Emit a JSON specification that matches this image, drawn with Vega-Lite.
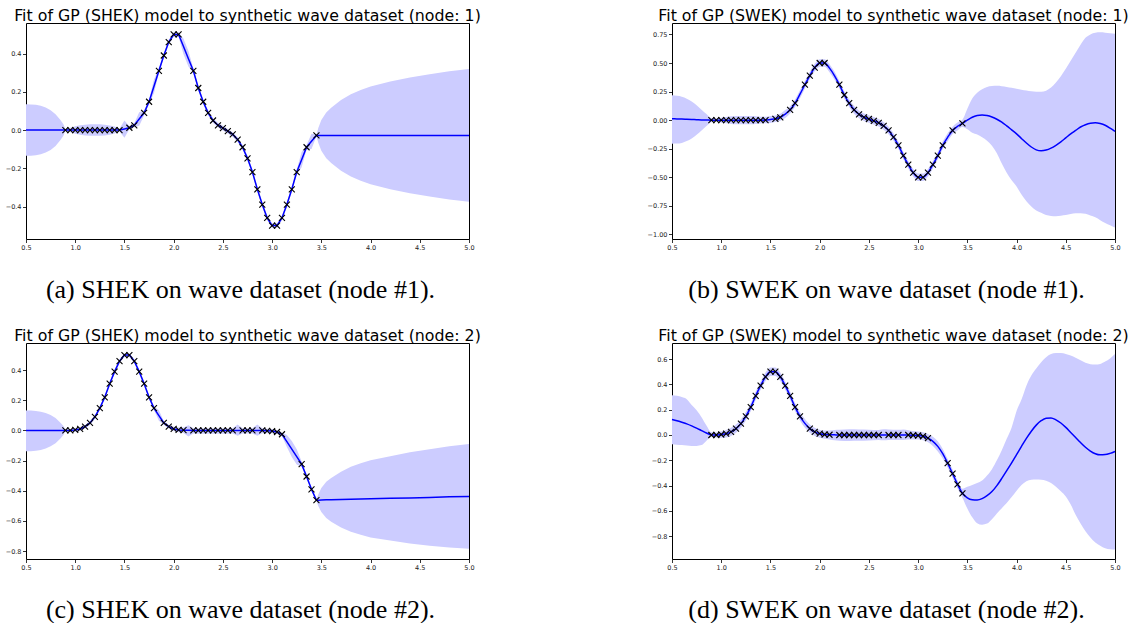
{
  "$schema": "https://vega.github.io/schema/vega-lite/v6.json",
  "background": "white",
  "padding": {"left": 4, "top": 7, "right": 0, "bottom": 0},
  "autosize": {"type": "pad"},
  "bounds": "flush",
  "columns": 2,
  "spacing": {"row": 104, "column": 203},
  "config": {
    "view": {"stroke": "#000", "strokeWidth": 1},
    "axis": {"domain": false, "grid": false, "tickColor": "#000", "tickSize": 3.5, "tickWidth": 0.8, "labelFont": "DejaVu Sans", "labelFontSize": 6.5, "labelColor": "#222", "labelPadding": 1.5, "labelOverlap": false},
    "axisX": {"titleFont": "Liberation Serif", "titleFontSize": 26, "titleFontWeight": "normal", "titleColor": "#000", "titleX": 214, "titleY": 58, "titleAlign": "center", "titleBaseline": "alphabetic", "labelFlush": false},
    "title": {"font": "DejaVu Sans", "fontSize": 15.8, "fontWeight": "normal", "color": "#000", "anchor": "middle", "offset": -2, "baseline": "alphabetic"}
  },
  "datasets": {
    "a": [
      {"x":0.5,"m":0,"lo":-0.135,"hi":0.135},{"x":0.55,"m":0,"lo":-0.134,"hi":0.134},{"x":0.6,"m":0,"lo":-0.132,"hi":0.132},{"x":0.65,"m":0,"lo":-0.127,"hi":0.127},{"x":0.7,"m":0,"lo":-0.118,"hi":0.118},{"x":0.75,"m":0,"lo":-0.104,"hi":0.104},{"x":0.8,"m":0,"lo":-0.083,"hi":0.083},{"x":0.85,"m":0,"lo":-0.052,"hi":0.052},{"x":0.88,"m":0,"lo":-0.03,"hi":0.03},{"x":0.9,"m":0,"lo":-0.005,"hi":0.005},
      {"x":0.95,"m":0,"lo":-0.012,"hi":0.012},{"x":1.0,"m":0,"lo":-0.02,"hi":0.02},{"x":1.05,"m":0,"lo":-0.025,"hi":0.025},{"x":1.1,"m":0,"lo":-0.028,"hi":0.028},{"x":1.15,"m":0,"lo":-0.03,"hi":0.03},{"x":1.2,"m":0,"lo":-0.03,"hi":0.03},{"x":1.25,"m":0,"lo":-0.03,"hi":0.03},{"x":1.3,"m":0,"lo":-0.028,"hi":0.028},{"x":1.35,"m":0,"lo":-0.024,"hi":0.024},{"x":1.4,"m":0,"lo":-0.018,"hi":0.018},{"x":1.45,"m":0,"lo":-0.008,"hi":0.008},
      {"x":1.5,"m":0.006,"lo":-0.04,"hi":0.05},{"x":1.55,"m":0.012,"lo":0.004,"hi":0.02},{"x":1.6,"m":0.025,"lo":0.015,"hi":0.035},{"x":1.65,"m":0.058,"lo":0.023,"hi":0.093},{"x":1.7,"m":0.09,"lo":0.078,"hi":0.102},{"x":1.75,"m":0.148,"lo":0.136,"hi":0.16},{"x":1.8,"m":0.229,"lo":0.194,"hi":0.264},{"x":1.85,"m":0.31,"lo":0.298,"hi":0.322},{"x":1.9,"m":0.39,"lo":0.378,"hi":0.402},{"x":1.95,"m":0.46,"lo":0.448,"hi":0.472},{"x":2.0,"m":0.5,"lo":0.488,"hi":0.512},{"x":2.05,"m":0.5,"lo":0.488,"hi":0.512},
      {"x":2.1,"m":0.437,"lo":0.397,"hi":0.477},{"x":2.15,"m":0.373,"lo":0.333,"hi":0.413},{"x":2.2,"m":0.31,"lo":0.298,"hi":0.322},{"x":2.25,"m":0.22,"lo":0.208,"hi":0.232},{"x":2.3,"m":0.148,"lo":0.136,"hi":0.16},{"x":2.35,"m":0.09,"lo":0.078,"hi":0.102},{"x":2.4,"m":0.05,"lo":0.038,"hi":0.062},{"x":2.45,"m":0.025,"lo":0.013,"hi":0.037},{"x":2.5,"m":0.01,"lo":-0.002,"hi":0.022},{"x":2.55,"m":-0.006,"lo":-0.018,"hi":0.006},{"x":2.6,"m":-0.023,"lo":-0.035,"hi":-0.011},{"x":2.65,"m":-0.05,"lo":-0.062,"hi":-0.038},{"x":2.7,"m":-0.09,"lo":-0.102,"hi":-0.078},{"x":2.75,"m":-0.148,"lo":-0.16,"hi":-0.136},{"x":2.8,"m":-0.22,"lo":-0.232,"hi":-0.208},{"x":2.85,"m":-0.31,"lo":-0.322,"hi":-0.298},{"x":2.9,"m":-0.39,"lo":-0.402,"hi":-0.378},{"x":2.95,"m":-0.46,"lo":-0.472,"hi":-0.448},{"x":3.0,"m":-0.5,"lo":-0.512,"hi":-0.488},{"x":3.05,"m":-0.5,"lo":-0.512,"hi":-0.488},{"x":3.1,"m":-0.46,"lo":-0.472,"hi":-0.448},{"x":3.15,"m":-0.39,"lo":-0.402,"hi":-0.378},{"x":3.2,"m":-0.31,"lo":-0.322,"hi":-0.298},{"x":3.25,"m":-0.22,"lo":-0.232,"hi":-0.208},{"x":3.3,"m":-0.155,"lo":-0.195,"hi":-0.115},{"x":3.35,"m":-0.09,"lo":-0.102,"hi":-0.078},{"x":3.4,"m":-0.059,"lo":-0.099,"hi":-0.019},{"x":3.45,"m":-0.028,"lo":-0.033,"hi":-0.023},
      {"x":3.47,"m":-0.028,"lo":-0.068,"hi":0.012},{"x":3.5,"m":-0.028,"lo":-0.108,"hi":0.052},{"x":3.55,"m":-0.028,"lo":-0.148,"hi":0.092},{"x":3.6,"m":-0.028,"lo":-0.173,"hi":0.117},{"x":3.7,"m":-0.028,"lo":-0.213,"hi":0.157},{"x":3.8,"m":-0.028,"lo":-0.243,"hi":0.187},{"x":3.9,"m":-0.028,"lo":-0.265,"hi":0.209},{"x":4.0,"m":-0.028,"lo":-0.284,"hi":0.228},{"x":4.2,"m":-0.028,"lo":-0.31,"hi":0.254},{"x":4.4,"m":-0.028,"lo":-0.331,"hi":0.275},{"x":4.6,"m":-0.028,"lo":-0.348,"hi":0.292},{"x":4.8,"m":-0.028,"lo":-0.363,"hi":0.307},{"x":5.0,"m":-0.028,"lo":-0.375,"hi":0.319}
    ],
    "b": [
      {"x":0.5,"m":0.012,"lo":-0.206,"hi":0.217},{"x":0.55,"m":0.011,"lo":-0.205,"hi":0.213},{"x":0.6,"m":0.01,"lo":-0.199,"hi":0.205},{"x":0.65,"m":0.008,"lo":-0.183,"hi":0.188},{"x":0.7,"m":0.006,"lo":-0.16,"hi":0.163},{"x":0.75,"m":0.004,"lo":-0.127,"hi":0.131},{"x":0.8,"m":0.002,"lo":-0.09,"hi":0.092},{"x":0.85,"m":0.001,"lo":-0.052,"hi":0.053},{"x":0.9,"m":0,"lo":-0.018,"hi":0.018},
      {"x":0.95,"m":0,"lo":-0.014,"hi":0.014},{"x":1.0,"m":0,"lo":-0.022,"hi":0.022},{"x":1.05,"m":0,"lo":-0.028,"hi":0.028},{"x":1.1,"m":0,"lo":-0.033,"hi":0.033},{"x":1.15,"m":0,"lo":-0.036,"hi":0.036},{"x":1.2,"m":0,"lo":-0.037,"hi":0.037},{"x":1.25,"m":0,"lo":-0.037,"hi":0.037},{"x":1.3,"m":0,"lo":-0.036,"hi":0.036},{"x":1.35,"m":0,"lo":-0.034,"hi":0.034},{"x":1.4,"m":0,"lo":-0.03,"hi":0.03},{"x":1.45,"m":0.001,"lo":-0.027,"hi":0.029},
      {"x":1.5,"m":0.006,"lo":-0.024,"hi":0.036},{"x":1.55,"m":0.012,"lo":-0.016,"hi":0.04},{"x":1.6,"m":0.025,"lo":-0.005,"hi":0.055},{"x":1.65,"m":0.053,"lo":0.018,"hi":0.088},{"x":1.7,"m":0.09,"lo":0.058,"hi":0.122},{"x":1.75,"m":0.148,"lo":0.115,"hi":0.181},{"x":1.8,"m":0.227,"lo":0.192,"hi":0.262},{"x":1.85,"m":0.31,"lo":0.277,"hi":0.343},{"x":1.9,"m":0.39,"lo":0.357,"hi":0.423},{"x":1.95,"m":0.46,"lo":0.427,"hi":0.493},{"x":2.0,"m":0.5,"lo":0.467,"hi":0.533},{"x":2.05,"m":0.5,"lo":0.467,"hi":0.533},{"x":2.1,"m":0.455,"lo":0.42,"hi":0.49},{"x":2.15,"m":0.39,"lo":0.355,"hi":0.425},{"x":2.2,"m":0.31,"lo":0.277,"hi":0.343},{"x":2.25,"m":0.22,"lo":0.187,"hi":0.253},{"x":2.3,"m":0.148,"lo":0.115,"hi":0.181},{"x":2.35,"m":0.09,"lo":0.057,"hi":0.123},{"x":2.4,"m":0.05,"lo":0.017,"hi":0.083},{"x":2.45,"m":0.025,"lo":-0.008,"hi":0.058},{"x":2.5,"m":0.01,"lo":-0.023,"hi":0.043},{"x":2.55,"m":-0.006,"lo":-0.039,"hi":0.027},{"x":2.6,"m":-0.023,"lo":-0.056,"hi":0.01},{"x":2.65,"m":-0.05,"lo":-0.083,"hi":-0.017},{"x":2.7,"m":-0.09,"lo":-0.123,"hi":-0.057},{"x":2.75,"m":-0.148,"lo":-0.181,"hi":-0.115},{"x":2.8,"m":-0.22,"lo":-0.253,"hi":-0.187},{"x":2.85,"m":-0.31,"lo":-0.343,"hi":-0.277},{"x":2.9,"m":-0.39,"lo":-0.423,"hi":-0.357},{"x":2.95,"m":-0.46,"lo":-0.493,"hi":-0.427},{"x":3.0,"m":-0.5,"lo":-0.533,"hi":-0.467},{"x":3.05,"m":-0.5,"lo":-0.533,"hi":-0.467},{"x":3.1,"m":-0.46,"lo":-0.493,"hi":-0.427},{"x":3.15,"m":-0.39,"lo":-0.423,"hi":-0.357},{"x":3.2,"m":-0.31,"lo":-0.343,"hi":-0.277},{"x":3.25,"m":-0.22,"lo":-0.253,"hi":-0.187},{"x":3.3,"m":-0.15,"lo":-0.185,"hi":-0.115},{"x":3.35,"m":-0.09,"lo":-0.123,"hi":-0.057},{"x":3.4,"m":-0.055,"lo":-0.09,"hi":-0.02},{"x":3.45,"m":-0.028,"lo":-0.06,"hi":0.004},
      {"x":3.5,"m":0.0,"lo":-0.08,"hi":0.1},{"x":3.55,"m":0.025,"lo":-0.11,"hi":0.19},{"x":3.6,"m":0.04,"lo":-0.125,"hi":0.24},{"x":3.65,"m":0.045,"lo":-0.15,"hi":0.27},{"x":3.7,"m":0.04,"lo":-0.18,"hi":0.29},{"x":3.75,"m":0.027,"lo":-0.225,"hi":0.298},{"x":3.8,"m":0.008,"lo":-0.29,"hi":0.3},{"x":3.85,"m":-0.017,"lo":-0.38,"hi":0.297},{"x":3.9,"m":-0.05,"lo":-0.46,"hi":0.29},{"x":3.95,"m":-0.085,"lo":-0.525,"hi":0.283},{"x":4.0,"m":-0.12,"lo":-0.58,"hi":0.275},{"x":4.05,"m":-0.16,"lo":-0.65,"hi":0.267},{"x":4.1,"m":-0.2,"lo":-0.71,"hi":0.26},{"x":4.15,"m":-0.235,"lo":-0.755,"hi":0.253},{"x":4.2,"m":-0.26,"lo":-0.79,"hi":0.248},{"x":4.25,"m":-0.268,"lo":-0.81,"hi":0.249},{"x":4.3,"m":-0.262,"lo":-0.83,"hi":0.258},{"x":4.35,"m":-0.245,"lo":-0.838,"hi":0.285},{"x":4.4,"m":-0.22,"lo":-0.84,"hi":0.33},{"x":4.45,"m":-0.19,"lo":-0.836,"hi":0.385},{"x":4.5,"m":-0.155,"lo":-0.83,"hi":0.45},{"x":4.55,"m":-0.12,"lo":-0.822,"hi":0.52},{"x":4.6,"m":-0.09,"lo":-0.815,"hi":0.59},{"x":4.65,"m":-0.06,"lo":-0.815,"hi":0.66},{"x":4.7,"m":-0.04,"lo":-0.82,"hi":0.72},{"x":4.75,"m":-0.027,"lo":-0.835,"hi":0.75},{"x":4.8,"m":-0.023,"lo":-0.85,"hi":0.765},{"x":4.85,"m":-0.03,"lo":-0.875,"hi":0.768},{"x":4.9,"m":-0.045,"lo":-0.9,"hi":0.765},{"x":4.95,"m":-0.07,"lo":-0.92,"hi":0.76},{"x":5.0,"m":-0.099,"lo":-0.94,"hi":0.755}
    ],
    "c": [
      {"x":0.5,"m":0,"lo":-0.138,"hi":0.133},{"x":0.55,"m":0,"lo":-0.137,"hi":0.132},{"x":0.6,"m":0,"lo":-0.135,"hi":0.13},{"x":0.65,"m":0,"lo":-0.129,"hi":0.125},{"x":0.7,"m":0,"lo":-0.12,"hi":0.116},{"x":0.75,"m":0,"lo":-0.105,"hi":0.102},{"x":0.8,"m":0,"lo":-0.084,"hi":0.082},{"x":0.85,"m":0,"lo":-0.053,"hi":0.051},{"x":0.88,"m":0,"lo":-0.03,"hi":0.03},{"x":0.9,"m":0,"lo":-0.005,"hi":0.005},
      {"x":0.95,"m":0,"lo":-0.01,"hi":0.01},{"x":1.0,"m":0.004,"lo":-0.008,"hi":0.016},{"x":1.05,"m":0.01,"lo":-0.002,"hi":0.022},{"x":1.1,"m":0.025,"lo":0.013,"hi":0.037},{"x":1.15,"m":0.05,"lo":0.038,"hi":0.062},{"x":1.2,"m":0.09,"lo":0.078,"hi":0.102},{"x":1.25,"m":0.148,"lo":0.136,"hi":0.16},{"x":1.3,"m":0.22,"lo":0.208,"hi":0.232},{"x":1.35,"m":0.31,"lo":0.298,"hi":0.322},{"x":1.4,"m":0.39,"lo":0.378,"hi":0.402},{"x":1.45,"m":0.46,"lo":0.448,"hi":0.472},{"x":1.5,"m":0.5,"lo":0.488,"hi":0.512},{"x":1.55,"m":0.5,"lo":0.488,"hi":0.512},{"x":1.6,"m":0.46,"lo":0.448,"hi":0.472},{"x":1.65,"m":0.39,"lo":0.378,"hi":0.402},{"x":1.7,"m":0.31,"lo":0.298,"hi":0.322},{"x":1.75,"m":0.22,"lo":0.208,"hi":0.232},{"x":1.8,"m":0.148,"lo":0.136,"hi":0.16},{"x":1.85,"m":0.099,"lo":0.064,"hi":0.134},{"x":1.9,"m":0.05,"lo":0.038,"hi":0.062},{"x":1.95,"m":0.025,"lo":0.013,"hi":0.037},{"x":2.0,"m":0.01,"lo":-0.004,"hi":0.024},{"x":2.05,"m":0.004,"lo":-0.012,"hi":0.02},{"x":2.1,"m":0.002,"lo":-0.016,"hi":0.02},{"x":2.15,"m":0.001,"lo":-0.04,"hi":0.035},
      {"x":2.2,"m":0,"lo":-0.02,"hi":0.015},{"x":2.25,"m":0,"lo":-0.022,"hi":0.015},{"x":2.3,"m":0,"lo":-0.022,"hi":0.015},{"x":2.35,"m":0,"lo":-0.022,"hi":0.015},{"x":2.4,"m":0,"lo":-0.022,"hi":0.015},{"x":2.45,"m":0,"lo":-0.022,"hi":0.015},{"x":2.5,"m":0,"lo":-0.022,"hi":0.015},{"x":2.55,"m":0,"lo":-0.022,"hi":0.015},{"x":2.6,"m":0,"lo":-0.02,"hi":0.015},{"x":2.65,"m":0,"lo":-0.035,"hi":0.04},{"x":2.7,"m":0,"lo":-0.02,"hi":0.015},{"x":2.75,"m":0,"lo":-0.02,"hi":0.015},{"x":2.8,"m":0,"lo":-0.02,"hi":0.015},{"x":2.85,"m":0,"lo":-0.035,"hi":0.04},{"x":2.9,"m":0,"lo":-0.018,"hi":0.015},{"x":2.95,"m":-0.002,"lo":-0.018,"hi":0.012},{"x":3.0,"m":-0.004,"lo":-0.018,"hi":0.01},{"x":3.05,"m":-0.01,"lo":-0.022,"hi":0.002},{"x":3.1,"m":-0.025,"lo":-0.037,"hi":-0.013},{"x":3.15,"m":-0.074,"lo":-0.11,"hi":-0.03},{"x":3.2,"m":-0.124,"lo":-0.175,"hi":-0.07},{"x":3.25,"m":-0.173,"lo":-0.225,"hi":-0.125},{"x":3.3,"m":-0.223,"lo":-0.24,"hi":-0.206},{"x":3.35,"m":-0.305,"lo":-0.318,"hi":-0.292},{"x":3.4,"m":-0.39,"lo":-0.403,"hi":-0.377},{"x":3.45,"m":-0.462,"lo":-0.467,"hi":-0.457},
      {"x":3.47,"m":-0.462,"lo":-0.502,"hi":-0.422},{"x":3.5,"m":-0.461,"lo":-0.541,"hi":-0.381},{"x":3.55,"m":-0.46,"lo":-0.58,"hi":-0.34},{"x":3.6,"m":-0.46,"lo":-0.605,"hi":-0.315},{"x":3.7,"m":-0.458,"lo":-0.643,"hi":-0.273},{"x":3.8,"m":-0.456,"lo":-0.671,"hi":-0.241},{"x":3.9,"m":-0.455,"lo":-0.692,"hi":-0.218},{"x":4.0,"m":-0.453,"lo":-0.709,"hi":-0.197},{"x":4.2,"m":-0.45,"lo":-0.73,"hi":-0.17},{"x":4.4,"m":-0.447,"lo":-0.75,"hi":-0.144},{"x":4.6,"m":-0.444,"lo":-0.764,"hi":-0.124},{"x":4.8,"m":-0.44,"lo":-0.775,"hi":-0.105},{"x":5.0,"m":-0.437,"lo":-0.784,"hi":-0.09}
    ],
    "d": [
      {"x":0.5,"m":0.123,"lo":-0.073,"hi":0.315},{"x":0.55,"m":0.113,"lo":-0.077,"hi":0.31},{"x":0.6,"m":0.101,"lo":-0.08,"hi":0.3},{"x":0.65,"m":0.088,"lo":-0.083,"hi":0.283},{"x":0.7,"m":0.072,"lo":-0.086,"hi":0.237},{"x":0.75,"m":0.054,"lo":-0.086,"hi":0.195},{"x":0.8,"m":0.035,"lo":-0.08,"hi":0.14},{"x":0.85,"m":0.016,"lo":-0.045,"hi":0.075},{"x":0.9,"m":0.002,"lo":-0.015,"hi":0.022},
      {"x":0.95,"m":0,"lo":-0.02,"hi":0.02},{"x":1.0,"m":0.004,"lo":-0.022,"hi":0.03},{"x":1.05,"m":0.01,"lo":-0.02,"hi":0.04},{"x":1.1,"m":0.025,"lo":-0.007,"hi":0.057},{"x":1.15,"m":0.05,"lo":0.018,"hi":0.082},{"x":1.2,"m":0.09,"lo":0.057,"hi":0.123},{"x":1.25,"m":0.148,"lo":0.115,"hi":0.181},{"x":1.3,"m":0.22,"lo":0.187,"hi":0.253},{"x":1.35,"m":0.31,"lo":0.277,"hi":0.343},{"x":1.4,"m":0.39,"lo":0.357,"hi":0.423},{"x":1.45,"m":0.46,"lo":0.427,"hi":0.493},{"x":1.5,"m":0.5,"lo":0.467,"hi":0.533},{"x":1.55,"m":0.5,"lo":0.467,"hi":0.533},{"x":1.6,"m":0.46,"lo":0.427,"hi":0.493},{"x":1.65,"m":0.39,"lo":0.357,"hi":0.423},{"x":1.7,"m":0.31,"lo":0.277,"hi":0.343},{"x":1.75,"m":0.22,"lo":0.187,"hi":0.253},{"x":1.8,"m":0.148,"lo":0.115,"hi":0.181},{"x":1.85,"m":0.092,"lo":0.057,"hi":0.127},{"x":1.9,"m":0.05,"lo":0.017,"hi":0.083},{"x":1.95,"m":0.025,"lo":-0.008,"hi":0.058},{"x":2.0,"m":0.01,"lo":-0.022,"hi":0.042},{"x":2.05,"m":0.004,"lo":-0.03,"hi":0.035},{"x":2.1,"m":0.002,"lo":-0.035,"hi":0.035},{"x":2.15,"m":0.001,"lo":-0.042,"hi":0.04},
      {"x":2.2,"m":0,"lo":-0.045,"hi":0.042},{"x":2.3,"m":0,"lo":-0.047,"hi":0.045},{"x":2.4,"m":0,"lo":-0.046,"hi":0.044},{"x":2.5,"m":0,"lo":-0.044,"hi":0.042},{"x":2.6,"m":0,"lo":-0.04,"hi":0.04},{"x":2.65,"m":0,"lo":-0.042,"hi":0.045},{"x":2.7,"m":0,"lo":-0.04,"hi":0.044},{"x":2.8,"m":0,"lo":-0.04,"hi":0.042},{"x":2.85,"m":0,"lo":-0.04,"hi":0.044},{"x":2.9,"m":0,"lo":-0.035,"hi":0.038},{"x":2.95,"m":-0.002,"lo":-0.035,"hi":0.032},{"x":3.0,"m":-0.004,"lo":-0.036,"hi":0.028},{"x":3.05,"m":-0.01,"lo":-0.042,"hi":0.022},{"x":3.1,"m":-0.025,"lo":-0.058,"hi":0.008},{"x":3.15,"m":-0.05,"lo":-0.087,"hi":-0.013},{"x":3.2,"m":-0.09,"lo":-0.13,"hi":-0.05},{"x":3.25,"m":-0.148,"lo":-0.185,"hi":-0.111},{"x":3.3,"m":-0.223,"lo":-0.256,"hi":-0.19},{"x":3.35,"m":-0.305,"lo":-0.338,"hi":-0.272},{"x":3.4,"m":-0.39,"lo":-0.423,"hi":-0.357},{"x":3.45,"m":-0.46,"lo":-0.495,"hi":-0.425},
      {"x":3.5,"m":-0.497,"lo":-0.58,"hi":-0.41},{"x":3.55,"m":-0.512,"lo":-0.65,"hi":-0.395},{"x":3.6,"m":-0.514,"lo":-0.697,"hi":-0.38},{"x":3.65,"m":-0.503,"lo":-0.709,"hi":-0.36},{"x":3.7,"m":-0.48,"lo":-0.7,"hi":-0.32},{"x":3.75,"m":-0.447,"lo":-0.665,"hi":-0.27},{"x":3.8,"m":-0.4,"lo":-0.62,"hi":-0.2},{"x":3.85,"m":-0.343,"lo":-0.578,"hi":-0.12},{"x":3.9,"m":-0.282,"lo":-0.538,"hi":-0.03},{"x":3.95,"m":-0.22,"lo":-0.49,"hi":0.06},{"x":4.0,"m":-0.155,"lo":-0.44,"hi":0.19},{"x":4.05,"m":-0.09,"lo":-0.395,"hi":0.28},{"x":4.1,"m":-0.027,"lo":-0.365,"hi":0.39},{"x":4.15,"m":0.03,"lo":-0.354,"hi":0.47},{"x":4.2,"m":0.078,"lo":-0.352,"hi":0.525},{"x":4.25,"m":0.113,"lo":-0.354,"hi":0.575},{"x":4.3,"m":0.133,"lo":-0.362,"hi":0.615},{"x":4.35,"m":0.135,"lo":-0.38,"hi":0.64},{"x":4.4,"m":0.12,"lo":-0.41,"hi":0.648},{"x":4.45,"m":0.095,"lo":-0.445,"hi":0.648},{"x":4.5,"m":0.06,"lo":-0.486,"hi":0.64},{"x":4.55,"m":0.02,"lo":-0.55,"hi":0.628},{"x":4.6,"m":-0.02,"lo":-0.63,"hi":0.61},{"x":4.65,"m":-0.06,"lo":-0.7,"hi":0.59},{"x":4.7,"m":-0.097,"lo":-0.76,"hi":0.57},{"x":4.75,"m":-0.127,"lo":-0.81,"hi":0.56},{"x":4.8,"m":-0.148,"lo":-0.85,"hi":0.558},{"x":4.85,"m":-0.157,"lo":-0.875,"hi":0.562},{"x":4.9,"m":-0.155,"lo":-0.895,"hi":0.58},{"x":4.95,"m":-0.145,"lo":-0.903,"hi":0.605},{"x":5.0,"m":-0.13,"lo":-0.905,"hi":0.64}
    ],
    "n1": [
      {"x":0.9,"y":0},{"x":0.95,"y":0},{"x":1.0,"y":0},{"x":1.05,"y":0},{"x":1.1,"y":0},{"x":1.15,"y":0},{"x":1.2,"y":0},{"x":1.25,"y":0},{"x":1.3,"y":0},{"x":1.35,"y":0},{"x":1.4,"y":0},{"x":1.45,"y":0},{"x":1.55,"y":0.012},{"x":1.6,"y":0.025},{"x":1.7,"y":0.09},{"x":1.75,"y":0.148},{"x":1.85,"y":0.31},{"x":1.9,"y":0.39},{"x":1.95,"y":0.46},{"x":2.0,"y":0.5},{"x":2.05,"y":0.5},{"x":2.2,"y":0.31},{"x":2.25,"y":0.22},{"x":2.3,"y":0.148},{"x":2.35,"y":0.09},{"x":2.4,"y":0.05},{"x":2.45,"y":0.025},{"x":2.5,"y":0.01},{"x":2.55,"y":-0.006},{"x":2.6,"y":-0.023},{"x":2.65,"y":-0.05},{"x":2.7,"y":-0.09},{"x":2.75,"y":-0.148},{"x":2.8,"y":-0.22},{"x":2.85,"y":-0.31},{"x":2.9,"y":-0.39},{"x":2.95,"y":-0.46},{"x":3.0,"y":-0.5},{"x":3.05,"y":-0.5},{"x":3.1,"y":-0.46},{"x":3.15,"y":-0.39},{"x":3.2,"y":-0.31},{"x":3.25,"y":-0.22},{"x":3.35,"y":-0.09},{"x":3.45,"y":-0.028}
    ],
    "n2": [
      {"x":0.9,"y":0},{"x":0.95,"y":0},{"x":1.0,"y":0.004},{"x":1.05,"y":0.01},{"x":1.1,"y":0.025},{"x":1.15,"y":0.05},{"x":1.2,"y":0.09},{"x":1.25,"y":0.148},{"x":1.3,"y":0.22},{"x":1.35,"y":0.31},{"x":1.4,"y":0.39},{"x":1.45,"y":0.46},{"x":1.5,"y":0.5},{"x":1.55,"y":0.5},{"x":1.6,"y":0.46},{"x":1.65,"y":0.39},{"x":1.7,"y":0.31},{"x":1.75,"y":0.22},{"x":1.8,"y":0.148},{"x":1.9,"y":0.05},{"x":1.95,"y":0.025},{"x":2.0,"y":0.01},{"x":2.05,"y":0.004},{"x":2.1,"y":0.002},{"x":2.2,"y":0},{"x":2.25,"y":0},{"x":2.3,"y":0},{"x":2.35,"y":0},{"x":2.4,"y":0},{"x":2.45,"y":0},{"x":2.5,"y":0},{"x":2.55,"y":0},{"x":2.6,"y":0},{"x":2.7,"y":0},{"x":2.75,"y":0},{"x":2.8,"y":0},{"x":2.9,"y":0},{"x":2.95,"y":-0.002},{"x":3.0,"y":-0.004},{"x":3.05,"y":-0.01},{"x":3.1,"y":-0.025},{"x":3.3,"y":-0.223},{"x":3.35,"y":-0.305},{"x":3.4,"y":-0.39},{"x":3.45,"y":-0.462}
    ]
  },
  "concat": [
    {
      "width": 443, "height": 216,
      "title": "Fit of GP (SHEK) model to synthetic wave dataset (node: 1)",
      "encoding": {"x": {"field": "x", "type": "quantitative", "scale": {"domain": [0.5, 5], "nice": false, "zero": false}, "axis": {"values": [0.5,1,1.5,2,2.5,3,3.5,4,4.5,5], "format": ".1f", "title": "(a) SHEK on wave dataset (node #1)."}}},
      "layer": [
        {"data": {"name": "a"}, "mark": {"type": "area", "color": "#ccccff", "opacity": 1}, "encoding": {"y": {"field": "lo", "type": "quantitative", "scale": {"domain": [-0.57, 0.56], "nice": false, "zero": false}, "axis": {"values": [-0.4,-0.2,0,0.2,0.4], "format": ".1f", "title": null}}, "y2": {"field": "hi"}}},
        {"data": {"name": "a"}, "mark": {"type": "line", "color": "#0000ff", "strokeWidth": 1.5}, "encoding": {"y": {"field": "m", "type": "quantitative", "scale": {"domain": [-0.57, 0.56], "nice": false, "zero": false}, "axis": {"values": [-0.4,-0.2,0,0.2,0.4], "format": ".1f", "title": null}}}},
        {"data": {"name": "n1"}, "mark": {"type": "point", "shape": "M-1,-1L1,1M-1,1L1,-1", "filled": false, "color": "#000", "size": 36, "strokeWidth": 1.1, "opacity": 1}, "encoding": {"y": {"field": "y", "type": "quantitative", "scale": {"domain": [-0.57, 0.56], "nice": false, "zero": false}, "axis": {"values": [-0.4,-0.2,0,0.2,0.4], "format": ".1f", "title": null}}}}
      ]
    },
    {
      "width": 443, "height": 216,
      "title": "Fit of GP (SWEK) model to synthetic wave dataset (node: 1)",
      "encoding": {"x": {"field": "x", "type": "quantitative", "scale": {"domain": [0.5, 5], "nice": false, "zero": false}, "axis": {"values": [0.5,1,1.5,2,2.5,3,3.5,4,4.5,5], "format": ".1f", "title": "(b) SWEK on wave dataset (node #1)."}}},
      "layer": [
        {"data": {"name": "b"}, "mark": {"type": "area", "color": "#ccccff", "opacity": 1, "interpolate": "monotone"}, "encoding": {"y": {"field": "lo", "type": "quantitative", "scale": {"domain": [-1.04, 0.85], "nice": false, "zero": false}, "axis": {"values": [-1,-0.75,-0.5,-0.25,0,0.25,0.5,0.75], "format": ".2f", "title": null}}, "y2": {"field": "hi"}}},
        {"data": {"name": "b"}, "mark": {"type": "line", "color": "#0000ff", "strokeWidth": 1.5, "interpolate": "monotone"}, "encoding": {"y": {"field": "m", "type": "quantitative", "scale": {"domain": [-1.04, 0.85], "nice": false, "zero": false}, "axis": {"values": [-1,-0.75,-0.5,-0.25,0,0.25,0.5,0.75], "format": ".2f", "title": null}}}},
        {"data": {"name": "n1"}, "mark": {"type": "point", "shape": "M-1,-1L1,1M-1,1L1,-1", "filled": false, "color": "#000", "size": 36, "strokeWidth": 1.1, "opacity": 1}, "encoding": {"y": {"field": "y", "type": "quantitative", "scale": {"domain": [-1.04, 0.85], "nice": false, "zero": false}, "axis": {"values": [-1,-0.75,-0.5,-0.25,0,0.25,0.5,0.75], "format": ".2f", "title": null}}}}
      ]
    },
    {
      "width": 443, "height": 216,
      "title": "Fit of GP (SHEK) model to synthetic wave dataset (node: 2)",
      "encoding": {"x": {"field": "x", "type": "quantitative", "scale": {"domain": [0.5, 5], "nice": false, "zero": false}, "axis": {"values": [0.5,1,1.5,2,2.5,3,3.5,4,4.5,5], "format": ".1f", "title": "(c) SHEK on wave dataset (node #2)."}}},
      "layer": [
        {"data": {"name": "c"}, "mark": {"type": "area", "color": "#ccccff", "opacity": 1}, "encoding": {"y": {"field": "lo", "type": "quantitative", "scale": {"domain": [-0.852, 0.58], "nice": false, "zero": false}, "axis": {"values": [-0.8,-0.6,-0.4,-0.2,0,0.2,0.4], "format": ".1f", "title": null}}, "y2": {"field": "hi"}}},
        {"data": {"name": "c"}, "mark": {"type": "line", "color": "#0000ff", "strokeWidth": 1.5}, "encoding": {"y": {"field": "m", "type": "quantitative", "scale": {"domain": [-0.852, 0.58], "nice": false, "zero": false}, "axis": {"values": [-0.8,-0.6,-0.4,-0.2,0,0.2,0.4], "format": ".1f", "title": null}}}},
        {"data": {"name": "n2"}, "mark": {"type": "point", "shape": "M-1,-1L1,1M-1,1L1,-1", "filled": false, "color": "#000", "size": 36, "strokeWidth": 1.1, "opacity": 1}, "encoding": {"y": {"field": "y", "type": "quantitative", "scale": {"domain": [-0.852, 0.58], "nice": false, "zero": false}, "axis": {"values": [-0.8,-0.6,-0.4,-0.2,0,0.2,0.4], "format": ".1f", "title": null}}}}
      ]
    },
    {
      "width": 443, "height": 216,
      "title": "Fit of GP (SWEK) model to synthetic wave dataset (node: 2)",
      "encoding": {"x": {"field": "x", "type": "quantitative", "scale": {"domain": [0.5, 5], "nice": false, "zero": false}, "axis": {"values": [0.5,1,1.5,2,2.5,3,3.5,4,4.5,5], "format": ".1f", "title": "(d) SWEK on wave dataset (node #2)."}}},
      "layer": [
        {"data": {"name": "d"}, "mark": {"type": "area", "color": "#ccccff", "opacity": 1, "interpolate": "monotone"}, "encoding": {"y": {"field": "lo", "type": "quantitative", "scale": {"domain": [-0.98, 0.727], "nice": false, "zero": false}, "axis": {"values": [-0.8,-0.6,-0.4,-0.2,0,0.2,0.4,0.6], "format": ".1f", "title": null}}, "y2": {"field": "hi"}}},
        {"data": {"name": "d"}, "mark": {"type": "line", "color": "#0000ff", "strokeWidth": 1.5, "interpolate": "monotone"}, "encoding": {"y": {"field": "m", "type": "quantitative", "scale": {"domain": [-0.98, 0.727], "nice": false, "zero": false}, "axis": {"values": [-0.8,-0.6,-0.4,-0.2,0,0.2,0.4,0.6], "format": ".1f", "title": null}}}},
        {"data": {"name": "n2"}, "mark": {"type": "point", "shape": "M-1,-1L1,1M-1,1L1,-1", "filled": false, "color": "#000", "size": 36, "strokeWidth": 1.1, "opacity": 1}, "encoding": {"y": {"field": "y", "type": "quantitative", "scale": {"domain": [-0.98, 0.727], "nice": false, "zero": false}, "axis": {"values": [-0.8,-0.6,-0.4,-0.2,0,0.2,0.4,0.6], "format": ".1f", "title": null}}}}
      ]
    }
  ]
}
